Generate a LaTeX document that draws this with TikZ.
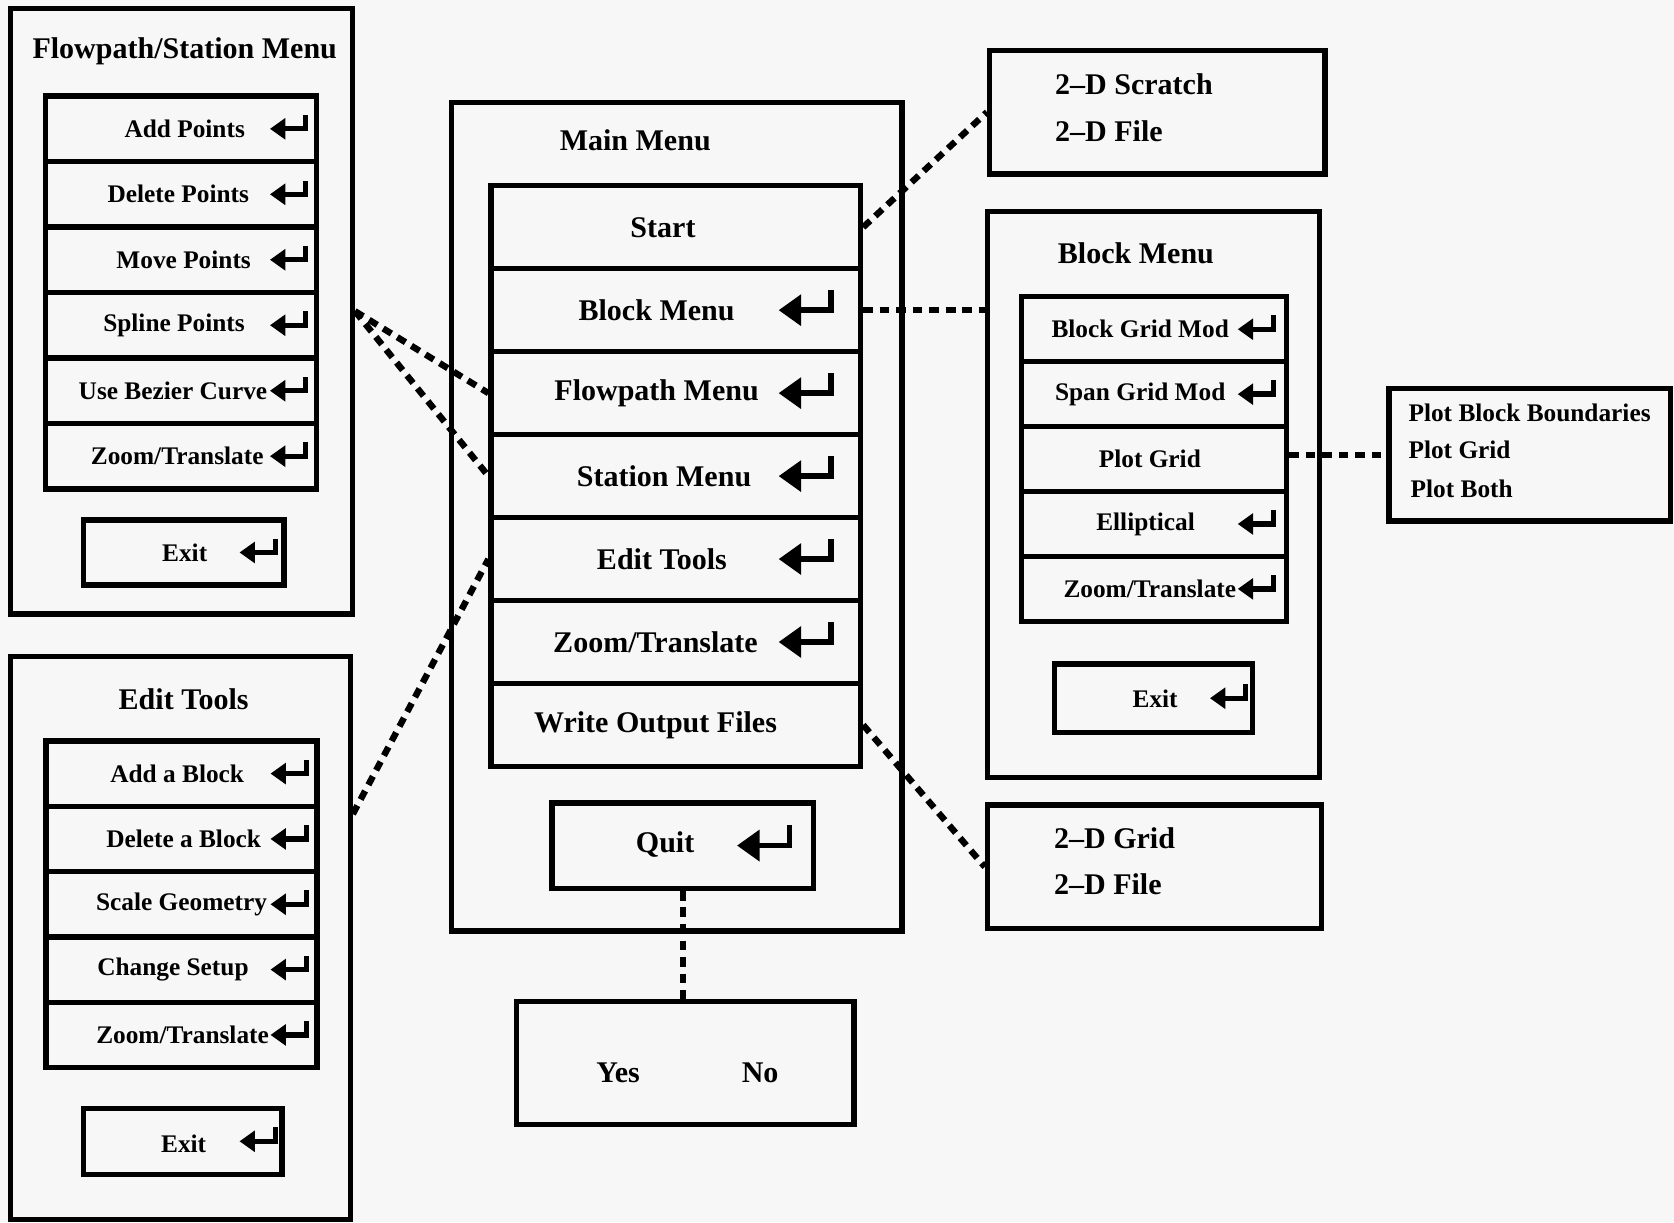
\documentclass[tikz,border=0pt]{standalone}
\usepackage{fontspec}
\setmainfont{Liberation Serif}
\usetikzlibrary{calc,fit}

\tikzset{
  box/.style={draw,line width=1mm,inner sep=0pt},
  row/.style={draw,line width=1mm,inner sep=0pt},
  bigtxt/.style={font=\fontsize{16}{18}\selectfont\bfseries,inner sep=0pt},
  smalltxt/.style={font=\fontsize{13.5}{15}\selectfont\bfseries,inner sep=0pt},
  link/.style={line width=1.2mm,dash pattern=on 1.8mm off 1.3mm},
  bigkey/.style={line width=1.1mm},
  smallkey/.style={scale=0.68,line width=1mm},
  enterkey/.pic={
    \fill (0,0) -- (21,-15) -- (21,15) -- cycle;
    \draw (19,0) -- (49,0) -- (49,-19);
  }
}

\begin{document}
\begin{tikzpicture}[x=0.2mm,y=-0.2mm,line join=miter]
\fill[black!3] (0,0) rectangle (1568,1145);
\useasboundingbox (0,0) rectangle (1568,1145);

% flowpath / station menu
\node[box,fit={(10,8) (330,575)}] (fsmenu) {};
\node[bigtxt] (fstitle) at (173,48) {Flowpath/Station Menu};
\foreach \i/\txt/\tx in {1/Add Points/173,2/Delete Points/167,3/Move Points/172,
    4/Spline Points/163,5/Use Bezier Curve/162,6/{Zoom/Translate}/166}
{ \node[row,minimum width=50.8mm,minimum height=12.26mm] (fs\i) at (169.5,{90+61.33*(\i-0.5)}) {};
  \node[smalltxt] (fs\i t) at (\tx,{90+61.33*(\i-0.5)}) {\txt};
  \pic[smallkey] at ($(fs\i.east)+(-46,0)$) {enterkey};}
\node[box,fit={(78,487) (266,548)}] (fsexit) {};
\node[smalltxt] (fsexitt) at (173,518) {Exit};
\pic[smallkey] at ($(fsexit.east)+(-44,0)$) {enterkey};

% edit tools
\node[box,fit={(10,615) (328,1142)}] (etmenu) {};
\node[bigtxt] (ettitle) at (172,655) {Edit Tools};
\foreach \i/\txt/\tx in {1/Add a Block/166,2/Delete a Block/172,3/Scale Geometry/170,
    4/Change Setup/162,5/{Zoom/Translate}/171}
{ \node[row,minimum width=50.8mm,minimum height=12.24mm] (et\i) at (170,{694+61.2*(\i-0.5)}) {};
  \node[smalltxt] (et\i t) at (\tx,{694+61.2*(\i-0.5)}) {\txt};
  \pic[smallkey] at ($(et\i.east)+(-46,0)$) {enterkey};}
\node[box,fit={(78,1038) (264,1100)}] (etexit) {};
\node[smalltxt] (etexitt) at (172,1071) {Exit};
\pic[smallkey] at ($(etexit.east)+(-42,0)$) {enterkey};

% main menu
\node[box,fit={(423,96) (845,872)}] (main) {};
\node[bigtxt] (maintitle) at (595,131) {Main Menu};
\foreach \i/\txt/\tx/\k in {1/Start/621/0,2/Block Menu/615/1,3/Flowpath Menu/615/1,
    4/Station Menu/622/1,5/Edit Tools/620/1,6/{Zoom/Translate}/614/1,7/Write Output Files/614/0}
{ \node[row,minimum width=69.2mm,minimum height=15.54mm] (m\i) at (633,{174+77.7*(\i-0.5)}) {};
  \node[bigtxt] (m\i t) at (\tx,{174+77.7*(\i-0.5)}) {\txt};
  \ifnum\k=1 \pic[bigkey] at ($(m\i.east)+(-79,0)$) {enterkey};\fi}
\node[box,fit={(517,752) (762,832)}] (quit) {};
\node[bigtxt] (quitt) at (623,791) {Quit};
\pic[bigkey] at ($(quit.east)+(-74,0)$) {enterkey};
\node[box,fit={(484,938) (800,1053)}] (yesno) {};
\node[bigtxt] (yes) at (579,1005) {Yes};
\node[bigtxt] (no) at (712,1005) {No};

% block menu
\node[box,fit={(925,198) (1236,728)}] (bmenu) {};
\node[bigtxt] (btitle) at (1064,237) {Block Menu};
\foreach \i/\txt/\tx/\k in {1/Block Grid Mod/1068/1,2/Span Grid Mod/1068/1,3/Plot Grid/1077/0,
    4/Elliptical/1073/1,5/{Zoom/Translate}/1077/1}
{ \node[row,minimum width=49.6mm,minimum height=12.16mm] (b\i) at (1081,{278+60.8*(\i-0.5)}) {};
  \node[smalltxt] (b\i t) at (\tx,{278+60.8*(\i-0.5)}) {\txt};
  \ifnum\k=1 \pic[smallkey] at ($(b\i.east)+(-48,0)$) {enterkey};\fi}
\node[box,fit={(988,622) (1173,686)}] (bexit) {};
\node[smalltxt] (bexitt) at (1082,655) {Exit};
\pic[smallkey] at ($(bexit.east)+(-42,0)$) {enterkey};

% output boxes
\node[box,fit={(927,47) (1241,163)}] (scratch) {};
\node[bigtxt,anchor=west] (scratch1) at (988,79) {2--D Scratch};
\node[bigtxt,anchor=west] (scratch2) at (988,123) {2--D File};
\node[box,fit={(925,754) (1238,870)}] (grid) {};
\node[bigtxt,anchor=west] (grid1) at (987,785) {2--D Grid};
\node[bigtxt,anchor=west] (grid2) at (987,828) {2--D File};
\node[box,fit={(1301,364) (1565,488)}] (plot) {};
\node[smalltxt,anchor=west] (plot1) at (1319,387) {Plot Block Boundaries};
\node[smalltxt,anchor=west] (plot2) at (1319,421) {Plot Grid};
\node[smalltxt,anchor=west] (plot3) at (1321,458) {Plot Both};

% dotted links
\draw[link] (fsmenu.east) -- (m3.west);
\draw[link] (fsmenu.east) -- (m4.west);
\draw[link] ($(etmenu.north east)+(0,150)$) -- (m5.west);
\draw[link] (m1.east) -- (scratch.west);
\draw[link] (m2.east) -- (m2.east -| bmenu.west);
\draw[link] (plot.west -| b3.east) -- (plot.west);
\draw[link] (m7.east) -- (grid.west);
\draw[link] (quit.south) -- (quit.south |- yesno.north);
\end{tikzpicture}
\end{document}
